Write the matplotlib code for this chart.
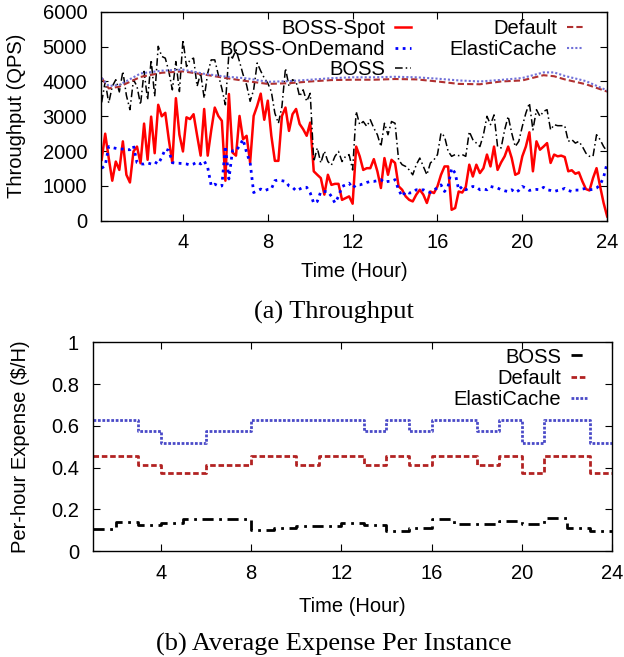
import numpy as np
import matplotlib
matplotlib.use('Agg')
import matplotlib.pyplot as plt

plt.rcParams.update({'font.size': 14.5, 'font.family': 'Liberation Sans'})

###############################################################################
# Throughput data, one sample every 10 minutes (hour = k / 6)

hours = np.arange(1, 145) / 6.0

boss_spot = [
    1750, 2500, 1800, 1150, 1700, 1460, 2280, 1320, 1100, 1990, 2130, 1650,
    2790, 1750, 2990, 1940, 3330, 3000, 3100, 2330, 1660, 3520, 2470, 1990,
    2970, 2920, 3060, 2450, 1870, 3210, 1870, 2600, 3250, 3010, 2870, 1150,
    3640, 1960, 1870, 3010, 2340, 2440, 1670, 3010, 3300, 3650, 2900, 3450,
    2440, 1720, 1720, 3010, 3250, 2580, 3060, 3210, 2780, 2630, 2440, 2820,
    1420, 1320, 1225, 750, 1320, 1030, 1060, 1060, 600, 650, 700, 490,
    2130, 1850, 1460, 1510, 1510, 1770, 1420, 940, 1800, 1320, 1750, 1660,
    990, 890, 700, 600, 555, 750, 890, 750, 510, 840, 795, 990,
    1320, 1560, 1560, 315, 365, 840, 810, 970, 1610, 1270, 1610, 1370,
    1510, 1900, 1560, 2130, 1460, 1675, 1850, 2130, 1800, 1320, 1370, 1850,
    2130, 2540, 1420, 2280, 2040, 2130, 2230, 1660, 1900, 1850, 1870, 1830,
    1420, 1450, 1350, 1390, 1130, 910, 870, 1225, 1510, 990, 510, 125]

boss_ondemand = [
    1510, 1580, 2130, 2100, 2080, 2060, 2060, 2040, 2040, 2150, 1670, 1630,
    1630, 1660, 1630, 1690, 1630, 1820, 2060, 2020, 1670, 1650, 1650, 1640,
    1630, 1600, 1630, 1690, 1630, 1720, 1530, 1000, 1050, 1000, 1000, 2150,
    1200, 2010, 2010, 2150, 2340, 1960, 1670, 810, 860, 910, 860, 900,
    910, 1150, 1170, 1150, 1130, 1000, 960, 860, 910, 960, 960, 800,
    500, 555, 840, 840, 840, 700, 510, 700, 985, 1030, 1080, 940,
    1030, 1030, 1060, 1100, 1130, 1130, 1150, 1180, 1100, 1130, 1130, 1180,
    890, 700, 840, 795, 810, 890, 870, 890, 840, 810, 890, 940,
    1030, 840, 985, 1510, 1370, 890, 985, 890, 940, 985, 970, 890,
    910, 890, 985, 960, 940, 890, 860, 840, 890, 810, 870, 985,
    940, 870, 890, 900, 890, 960, 890, 870, 840, 870, 890, 930,
    870, 840, 880, 880, 910, 930, 890, 900, 940, 1030, 1250, 1660]

boss = [
    3400, 4000, 3380, 3860, 4050, 3700, 4290, 3600, 3190, 4050, 3860, 3330,
    4290, 3470, 4620, 3570, 5010, 4720, 4670, 4290, 3760, 4570, 3710, 5200,
    4430, 4620, 4670, 3860, 4240, 3520, 4240, 4620, 4620, 4190, 3800, 3330,
    4810, 4670, 4910, 4570, 4200, 3900, 3430, 3760, 4530, 4300, 4100, 3950,
    3710, 3090, 2800, 3280, 4380, 3860, 4050, 4000, 3570, 3760, 3430, 3660,
    1700, 2090, 1660, 2000, 1700, 1600, 1850, 1990, 1700, 1850, 1900, 1460,
    3140, 2760, 2850, 2710, 2900, 2660, 2470, 2130, 2800, 2470, 2850, 2800,
    1750, 1610, 1560, 1460, 1320, 1610, 1800, 1560, 1320, 1660, 1750, 1900,
    2520, 2420, 2000, 1850, 1900, 1870, 1900, 1850, 2560, 2330, 2230, 2130,
    2470, 3000, 2760, 3040, 2130, 2090, 2610, 3000, 2520, 2130, 2280, 2710,
    3090, 3380, 2610, 3190, 3000, 3140, 3190, 2610, 2760, 2730, 2730, 2730,
    2280, 2330, 2230, 2280, 2130, 1940, 1850, 1850, 2470, 2330, 2130, 1990]

# Smooth baselines, read at coarser points
hours_smooth = [0.17, 0.5, 1, 2, 3, 4, 5, 6, 7, 8, 9, 10, 11, 12, 13, 14, 15,
                16, 17, 18, 19, 20, 21, 21.5, 22, 23, 24]
default_qps = [4100, 3800, 3850, 4130, 4250, 4290, 4200, 4100, 4010, 3930,
               3950, 4000, 4040, 4050, 4050, 4070, 4060, 4000, 3930, 3920,
               4000, 4030, 4180, 4150, 4060, 3920, 3710]
elasticache_qps = [4100, 3870, 3900, 4230, 4310, 4340, 4220, 4140, 4090, 3990,
                   4010, 4050, 4095, 4120, 4120, 4135, 4120, 4080, 4030, 4000,
                   4045, 4100, 4260, 4260, 4160, 4010, 3740]

###############################################################################
# Per-hour expense, hourly steps (last value repeats to close the step)

hours_cost = np.arange(1, 25)
boss_cost = [0.108, 0.138, 0.125, 0.135, 0.155, 0.152, 0.152, 0.100, 0.112,
             0.120, 0.120, 0.135, 0.125, 0.097, 0.112, 0.152, 0.128, 0.128,
             0.144, 0.131, 0.160, 0.112, 0.097, 0.097]
default_cost = [0.455, 0.455, 0.415, 0.375, 0.375, 0.415, 0.415, 0.455, 0.455,
                0.415, 0.455, 0.455, 0.415, 0.455, 0.415, 0.455, 0.455, 0.415,
                0.455, 0.375, 0.455, 0.455, 0.375, 0.375]
elasticache_cost = [0.63, 0.63, 0.575, 0.52, 0.52, 0.575, 0.575, 0.63, 0.63,
                    0.63, 0.63, 0.63, 0.575, 0.63, 0.575, 0.63, 0.63, 0.575,
                    0.63, 0.52, 0.63, 0.63, 0.52, 0.52]

###############################################################################
# Plot

fig = plt.figure(figsize=(6.24, 6.57), dpi=100)
ax1 = fig.add_axes([0.162, 0.664, 0.811, 0.318])
ax2 = fig.add_axes([0.149, 0.161, 0.832, 0.318])

ax1.plot(hours, boss_spot, color='#ff0000', lw=1.8, label='BOSS-Spot')
ax1.plot(hours, boss_ondemand, color='#0000ff', lw=2.0, ls=(0, (1, 1.6)),
         label='BOSS-OnDemand')
ax1.plot(hours, boss, color='black', lw=1.1, ls=(0, (5, 2, 1, 2)), label='BOSS')
ax1.plot(hours_smooth, default_qps, color='#b03030', lw=1.5, ls=(0, (3, 1.5)),
         label='Default')
ax1.plot(hours_smooth, elasticache_qps, color='#7070d8', lw=1.5, ls=(0, (1, 1)),
         label='ElastiCache')

ax1.set_xlim(0.14, 24)
ax1.set_ylim(0, 6000)
ax1.set_xticks([4, 8, 12, 16, 20, 24])
ax1.set_yticks(range(0, 6001, 1000))
ax1.set_xlabel('Time (Hour)', labelpad=7)
ax1.set_ylabel('Throughput (QPS)', labelpad=12)
ax1.legend(ncol=2, loc='upper right', bbox_to_anchor=(0.953, 0.965),
           frameon=False, markerfirst=False, borderaxespad=0, borderpad=0,
           handlelength=0.8, handletextpad=0.5, labelspacing=0.08,
           columnspacing=1.9)

ax2.plot(hours_cost, boss_cost, drawstyle='steps-post', color='black', lw=2,
         ls=(0, (4, 2, 1, 2)), label='BOSS')
ax2.plot(hours_cost, default_cost, drawstyle='steps-post', color='#b22222',
         lw=2, ls=(0, (2, 1)), label='Default')
ax2.plot(hours_cost, elasticache_cost, drawstyle='steps-post',
         color='#4a4ac8', lw=2, ls=(0, (1, 0.6)), label='ElastiCache')

ax2.set_xlim(1, 24)
ax2.set_ylim(0, 1)
ax2.set_xticks([4, 8, 12, 16, 20, 24])
ax2.set_yticks([0, 0.2, 0.4, 0.6, 0.8, 1])
ax2.set_yticklabels(['0', '0.2', '0.4', '0.6', '0.8', '1'])
ax2.set_xlabel('Time (Hour)', labelpad=10)
ax2.set_ylabel('Per-hour Expense ($/H)', labelpad=15)
ax2.legend(loc='upper right', bbox_to_anchor=(0.952, 0.975), frameon=False,
           markerfirst=False, borderaxespad=0, borderpad=0, handlelength=0.8,
           handletextpad=0.5, labelspacing=0.12)

for ax in (ax1, ax2):
    ax.tick_params(direction='in', top=True, right=True, length=5)
    ax.tick_params(axis='x', pad=9)
    ax.tick_params(axis='y', pad=10)
    for sp in ax.spines.values():
        sp.set_linewidth(1.0)

fig.text(0.535, 0.525, '(a) Throughput', ha='center', va='center',
         family='Liberation Serif', fontsize=19)
fig.text(0.535, 0.019, '(b) Average Expense Per Instance', ha='center',
         va='center', family='Liberation Serif', fontsize=19)

plt.savefig('out.png', dpi=100)
